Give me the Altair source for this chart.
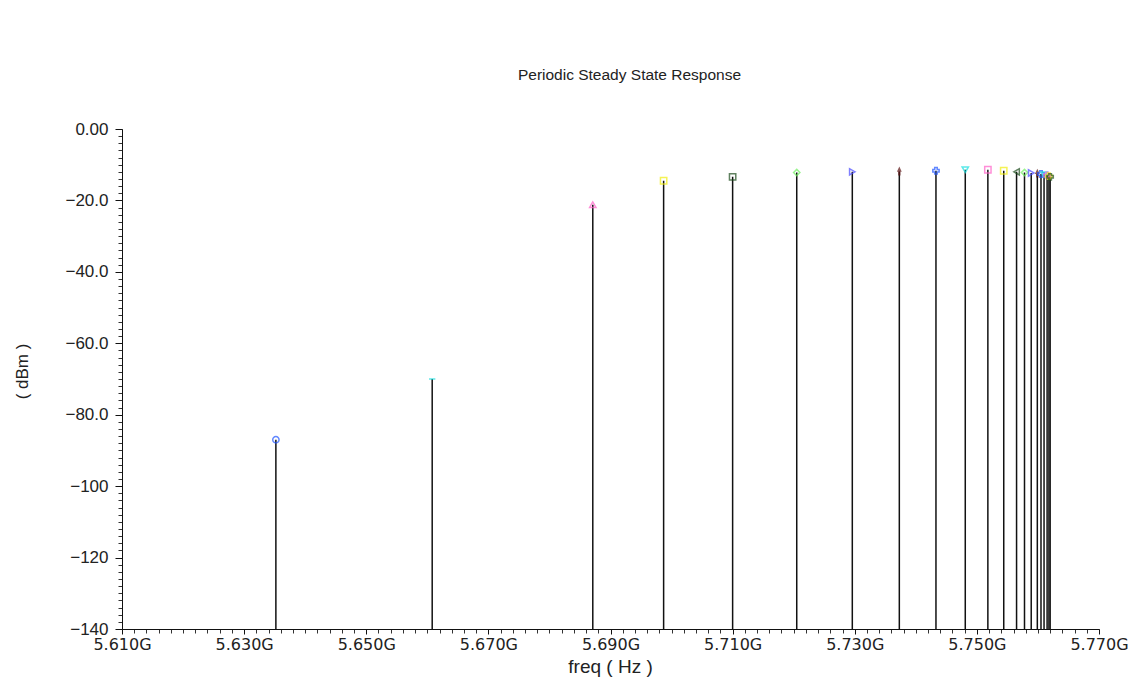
import altair as alt
import pandas as pd
import numpy as np

# Harmonic frequencies (GHz) and power (dBm)
freq_ghz = [5.6352, 5.6608, 5.6871, 5.6987, 5.7100, 5.7205, 5.7296, 5.7373, 5.7433,
            5.7481, 5.7518, 5.7544, 5.7565, 5.7578, 5.7589, 5.7599, 5.7605, 5.7610,
            5.7615, 5.7618, 5.7620]
power_dbm = [-87.0, -70.0, -21.2, -14.5, -13.4, -12.2, -12.0, -11.9, -11.7,
             -11.4, -11.4, -11.7, -12.0, -12.2, -12.3, -12.5, -12.6, -12.8,
             -13.0, -13.2, -13.4]

color_cycle = ["#1f55ff", "#18e0e0", "#ff5fc8", "#f2ee10", "#1d4d1d", "#70f060", "#4a4aff", "#5c1414"]
shape_cycle = ["circle", "stroke", "triangle-up", "square", "square", "diamond",
               "triangle-right", "arrow", "cross", "triangle-down", "square",
               "square", "triangle-left", "diamond", "triangle-right", "arrow",
               "cross", "triangle-down", "cross", "cross", "cross"]

x_major_ticks = [5.61, 5.63, 5.65, 5.67, 5.69, 5.71, 5.73, 5.75, 5.77]
y_major_ticks = [0, -20, -40, -60, -80, -100, -120, -140]
x_minor_ticks = [round(v, 4) for v in np.arange(5.61, 5.7701, 0.002)]
y_minor_ticks = list(range(-140, 1, 2))

title_text = "Periodic Steady State Response"
x_title = "freq ( Hz )"
y_title = "( dBm )"

n = len(freq_ghz)
ids = [f"h{i:02d}" for i in range(n)]
df = pd.DataFrame({"freq": freq_ghz, "power": power_dbm, "id": ids})
df["floor"] = -140.0

FONT = "Liberation Sans"
XFONT = "DejaVu Sans"
xscale = alt.Scale(domain=[5.61, 5.77], nice=False, zero=False)
yscale = alt.Scale(domain=[-140, 0], nice=False, zero=False)

x_major = alt.Axis(
    orient="bottom", values=x_major_ticks, grid=False,
    labelExpr="format(datum.value, '.3f') + 'G'",
    labelFont=XFONT, labelFontSize=16, labelColor="#222", labelPadding=2,
    labelFlush=False, labelOverlap=False,
    tickSize=5, tickColor="#111", domainColor="#111", domainWidth=1,
    title=x_title, titleFont=FONT, titleFontSize=19, titleFontWeight="normal",
    titleColor="#222", titleX=488, titleY=37, titleAlign="center", titleBaseline="middle",
)
y_major = alt.Axis(
    orient="left", values=y_major_ticks, grid=False,
    labelExpr="datum.value == 0 ? '0.00' : (abs(datum.value) >= 100 ? format(datum.value, 'd') : format(datum.value, '.1f'))",
    labelFont=FONT, labelFontSize=17, labelColor="#222", labelPadding=7,
    labelFlush=False, labelOverlap=False,
    tickSize=7, tickColor="#111", domainColor="#111", domainWidth=1,
    title=y_title, titleFont=FONT, titleFontSize=17, titleFontWeight="normal",
    titleColor="#222", titleX=-100, titleY=242, titleAngle=-90,
    titleAlign="center", titleBaseline="middle",
)
x_minor = alt.Axis(orient="bottom", values=x_minor_ticks, labels=False, domain=False,
                   grid=False, tickSize=4, tickColor="#333", title=None)
y_minor = alt.Axis(orient="left", values=y_minor_ticks, labels=False, domain=False,
                   grid=False, tickSize=4, tickColor="#333", title=None)

stems = alt.Chart(df).mark_rule(color="#111", strokeWidth=1.5).encode(
    x=alt.X("freq:Q", scale=xscale, axis=x_major),
    y=alt.Y("power:Q", scale=yscale, axis=y_major),
    y2="floor:Q",
)
minor = alt.Chart(df).mark_rule(opacity=0).encode(
    x=alt.X("freq:Q", scale=xscale, axis=x_minor),
    y=alt.Y("power:Q", scale=yscale, axis=y_minor),
    y2="floor:Q",
)
markers = alt.Chart(df).mark_point(size=40, strokeWidth=1.5, filled=False).encode(
    x=alt.X("freq:Q", scale=xscale, axis=None),
    y=alt.Y("power:Q", scale=yscale, axis=None),
    color=alt.Color("id:N", scale=alt.Scale(domain=ids, range=[color_cycle[i % 8] for i in range(n)]), legend=None),
    shape=alt.Shape("id:N", scale=alt.Scale(domain=ids, range=shape_cycle[:n]), legend=None),
)

chart = alt.layer(minor, stems, markers).resolve_axis(x="independent", y="independent").properties(
    width=977, height=500,
    autosize=alt.AutoSizeParams(type="none"),
    padding={"left": 122, "top": 129, "right": 49, "bottom": 54},
    background="white",
    title=alt.TitleParams(title_text, font=FONT, fontSize=15.5, fontWeight="normal",
                          color="#222", anchor="middle", dx=19, offset=37),
).configure_view(stroke=None)

chart.save("out.html", embed_options={"renderer": "svg", "actions": False})
